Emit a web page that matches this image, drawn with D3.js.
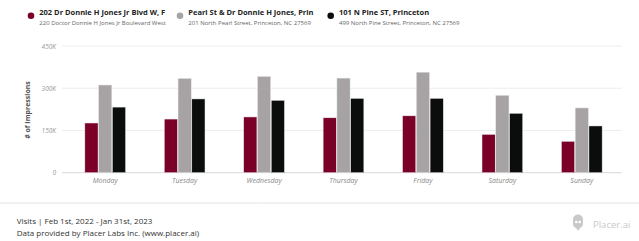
<!DOCTYPE html>
<html><head><meta charset="utf-8">
<script src="https://cdn.jsdelivr.net/npm/d3@7/dist/d3.min.js"></script>
<style>
body{margin:0;background:#fff;}
svg{display:block;font-family:"Open Sans",sans-serif;}
</style></head>
<body><svg id="c" width="639" height="241"></svg>
<script>
const days = ["Monday","Tuesday","Wednesday","Thursday","Friday","Saturday","Sunday"];
const seriesNames = ["202 Dr Donnie H Jones Jr Blvd W, F","Pearl St & Dr Donnie H Jones, Prin","101 N Pine ST, Princeton"];
const seriesAddr = ["220 Doctor Donnie H Jones Jr Boulevard West","201 North Pearl Street, Princeton, NC 27569","499 North Pine Street, Princeton, NC 27569"];
const seriesColors = ["#7a0027","#a7a3a5","#0b0d0d"];
const s1 = [176500,190500,198000,195000,202000,136000,111500];
const s2 = [311500,335000,342000,336000,357000,275000,230000];
const s3 = [233000,262000,257000,264000,264000,211000,166000];
const yTicks = [0,150000,300000,450000];
const yTickLabels = ["0","150K","300K","450K"];
const footer1 = "Visits | Feb 1st, 2022 - Jan 31st, 2023";
const footer2 = "Data provided by Placer Labs Inc. (www.placer.ai)";

const series = [s1,s2,s3];
const svg = d3.select("#c");
const x = d3.scaleBand().domain(days).range([65.5,621.5]).paddingInner(0.5).paddingOuter(0.25);
const y = d3.scaleLinear().domain([0,450000]).range([172.7,46]);
const xs = d3.scaleBand().domain([0,1,2]).range([-0.5,x.bandwidth()+0.5]).paddingInner(0.04);

// gridlines
svg.append("g").selectAll("line").data(yTicks).join("line")
  .attr("x1",62).attr("x2",621.7).attr("y1",d=>y(d)).attr("y2",d=>y(d))
  .attr("stroke",d=>d===0?"#d8d8d8":"#eeeeee").attr("stroke-width",1);

// y tick labels
svg.append("g").selectAll("text").data(yTicks).join("text")
  .attr("x",56).attr("y",d=>y(d)+2.5).attr("text-anchor","end")
  .attr("font-size",6.5).attr("font-style","italic").attr("fill","#999")
  .text((d,i)=>yTickLabels[i]);

// y axis title
svg.append("text").attr("transform","translate(30,110) rotate(-90)")
  .attr("text-anchor","middle").attr("font-size",7).attr("font-weight","bold").attr("fill","#555")
  .text("# of Impressions");

// bars
const g = svg.append("g");
days.forEach((d,i)=>{
  series.forEach((s,j)=>{
    g.append("rect").attr("x",x(d)+xs(j)).attr("width",xs.bandwidth())
      .attr("y",y(s[i])).attr("height",y(0)-y(s[i]))
      .attr("fill",seriesColors[j]).attr("stroke","#e8e8e8").attr("stroke-width",0.5);
  });
});

// x labels
svg.append("g").selectAll("text").data(days).join("text")
  .attr("x",d=>x(d)+x.bandwidth()/2).attr("y",183).attr("text-anchor","middle")
  .attr("font-size",7).attr("font-style","italic").attr("fill","#8a8a8a").text(d=>d);

// legend
const legX = [31,180,330.7];
seriesNames.forEach((n,j)=>{
  const lg = svg.append("g");
  lg.append("circle").attr("cx",legX[j]).attr("cy",15.7).attr("r",3.3).attr("fill",seriesColors[j]);
  lg.append("text").attr("x",legX[j]+8.3).attr("y",14.7).attr("font-size",7.5).attr("font-weight","bold").attr("fill","#222").text(n);
  lg.append("text").attr("x",legX[j]+8.3).attr("y",25).attr("font-size",6).attr("fill","#666").text(seriesAddr[j]);
});

// footer
svg.append("line").attr("x1",0).attr("x2",639).attr("y1",203).attr("y2",203).attr("stroke","#e2e2e2");
svg.append("text").attr("x",16.7).attr("y",224).attr("font-size",8).attr("fill","#333").text(footer1);
svg.append("text").attr("x",16.7).attr("y",236).attr("font-size",8).attr("fill","#333").text(footer2);

// logo
const lgo = svg.append("g").attr("fill","#c9c9c9");
lgo.append("path").attr("d","M573,219.5 a5,5 0 0 1 10,0 v4 a5,5 0 0 1 -3,4.6 l-2,3 l-2,-3 a5,5 0 0 1 -3,-4.6 z");
lgo.append("circle").attr("cx",576.3).attr("cy",222).attr("r",1.3).attr("fill","#fff");
lgo.append("circle").attr("cx",579.7).attr("cy",222).attr("r",1.3).attr("fill","#fff");
lgo.append("text").attr("x",593).attr("y",228).attr("font-size",9.5).text("Placer.ai");
</script></body></html>
